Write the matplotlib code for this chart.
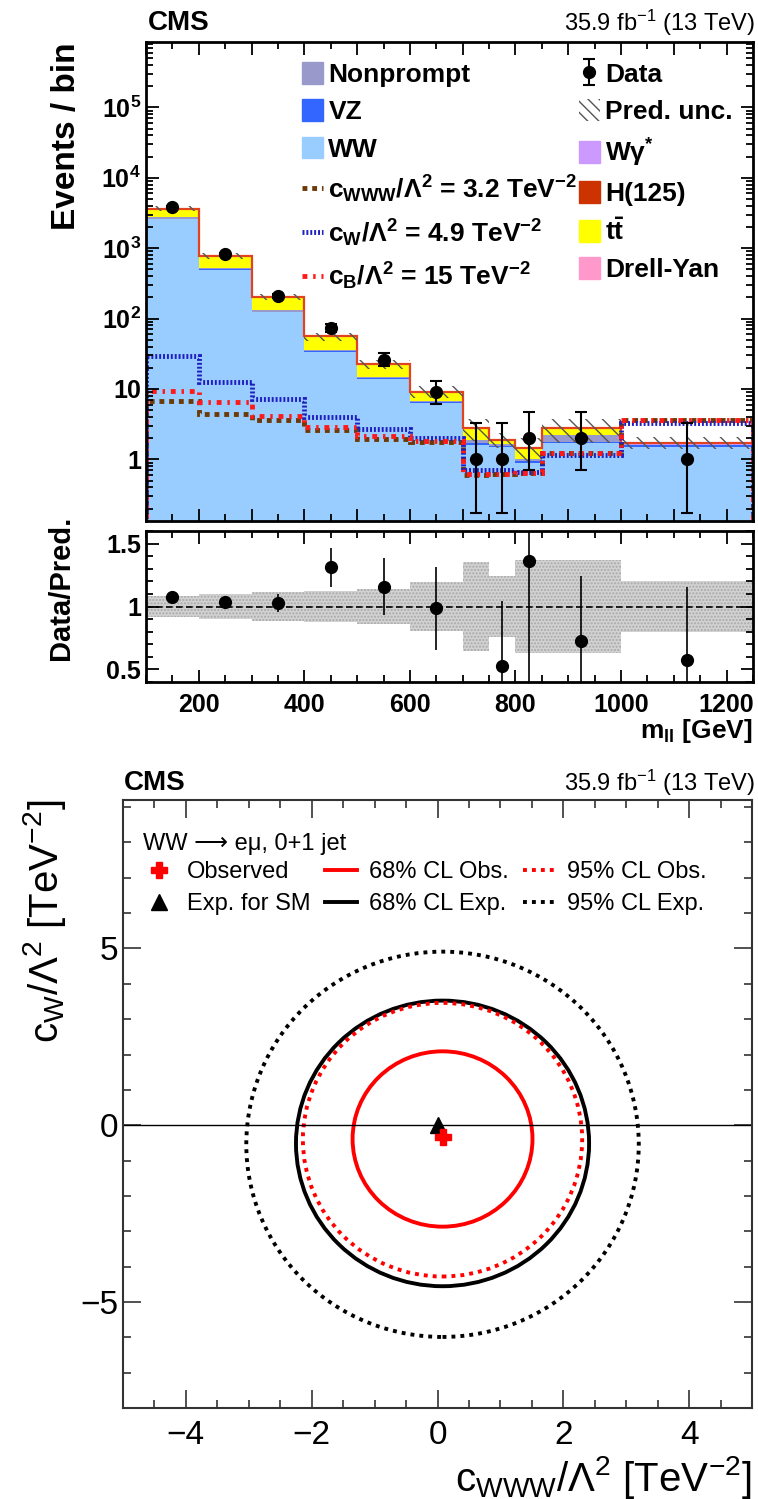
import numpy as np
import matplotlib
matplotlib.use('Agg')
import matplotlib.pyplot as plt
import matplotlib.patches as mpatches
from matplotlib.lines import Line2D
from matplotlib.ticker import MultipleLocator, LogLocator, NullFormatter

plt.rcParams['font.family'] = ['Liberation Sans', 'DejaVu Sans']
plt.rcParams['mathtext.fontset'] = 'custom'
plt.rcParams['mathtext.rm'] = 'Liberation Sans'
plt.rcParams['mathtext.bf'] = 'Liberation Sans:bold'
plt.rcParams['mathtext.it'] = 'Liberation Sans:italic'
plt.rcParams['hatch.linewidth'] = 1.0

# --- top panel: m_ll distribution ---
edges = [100, 200, 300, 400, 500, 600, 700, 750, 800, 850, 1000, 1250]
ww        = [2580, 490, 123, 33.6, 13.7, 6.25, 1.62, 1.50, 0.90, 1.68, 1.52]
vz        = [45, 10, 2.8, 0.9, 0.4, 0.2, 0.06, 0.05, 0.06, 0.06, 0.06]
nonprompt = [110, 22, 5, 1.3, 0.8, 0.35, 0.2, 0.10, 0.05, 0.50, 0.04]
wgstar    = [15, 3, 0.7, 0.2, 0.08, 0.03, 0.01, 0.01, 0.01, 0.01, 0.01]
ttbar     = [820, 251, 70.7, 19.2, 7.35, 2.22, 0.85, 0.23, 0.425, 0.48, 0.08]
dy        = [25, 4, 1, 0.3, 0.1, 0.05, 0.01, 0.01, 0.01, 0.01, 0.01]
higgs     = [30, 4, 0.8, 0.2, 0.07, 0.03, 0.01, 0.01, 0.01, 0.01, 0.01]
rel_unc   = [0.08, 0.097, 0.112, 0.125, 0.14, 0.195, 0.35, 0.24, 0.37, 0.37, 0.2]

data     = [3900, 815, 210, 73, 26, 9, 1, 1, 2, 2, 1]
data_elo = [62, 28.5, 14.5, 8.5, 5.06, 2.94, 0.827, 0.827, 1.291, 1.291, 0.827]
data_ehi = [63, 29.5, 15.5, 9.6, 6.17, 4.11, 2.299, 2.299, 2.637, 2.637, 2.299]

eft_cwww = [6.8, 4.35, 3.58, 2.6, 1.92, 1.76, 0.6, 0.62, 0.64, 1.22, 3.65]
eft_cw   = [29.3, 12.6, 7.1, 3.95, 2.67, 1.99, 0.7, 0.7, 0.66, 1.15, 3.25]
eft_cb   = [9.4, 6.45, 4.12, 2.9, 2.14, 1.85, 0.62, 0.62, 0.64, 1.22, 3.6]

# --- bottom panel: 2D limits (center x, center y, half-width, half-height) ---
obs_point = (0.08, -0.33)
sm_point = (0.0, 0.0)
obs68 = (0.08, -0.39, 1.43, 2.48)
obs95 = (0.08, -0.41, 2.22, 3.87)
exp68 = (0.08, -0.515, 2.33, 4.04)
exp95 = (0.08, -0.54, 3.12, 5.45)

W, H = 758, 1499
fig = plt.figure(figsize=(W / 100, H / 100), dpi=100)

def fax(l, t, r, b):
    return fig.add_axes([l / W, 1 - b / H, (r - l) / W, (b - t) / H])

ax = fax(146, 42, 753, 521)
axr = fax(146, 531, 753, 682)
ax2 = fax(123, 800, 752, 1408)

c_ww, c_vz, c_np = '#99ccff', '#3366ff', '#9999cc'
c_wg, c_tt, c_dy, c_h = '#cc99ff', '#ffff00', '#ff99cc', '#cc3300'

edges = np.array(edges, dtype=float)
centers = 0.5 * (edges[1:] + edges[:-1])
stack = [(ww, c_ww), (vz, c_vz), (nonprompt, c_np), (wgstar, c_wg),
         (ttbar, c_tt), (dy, c_dy), (higgs, c_h)]
base = np.full(len(ww), 1e-3)
for vals, col in stack:
    top = base + np.array(vals)
    ax.stairs(top, edges, baseline=base, fill=True, color=col, lw=0)
    base = top
total = base - 1e-3
ax.stairs(total, edges, baseline=None, color='#e2431e', lw=1.6)
unc = np.array(rel_unc)
ax.stairs(total * (1 + unc), edges, baseline=total * (1 - unc), fill=True,
          facecolor='none', edgecolor='#555555', hatch='\\\\', lw=0)

ls_cwww = (0, (1.0, 1.0))
ls_cw = (0, (0.4, 0.4))
ls_cb = (0, (1.0, 1.2, 0.5, 1.2))
ax.stairs(eft_cwww, edges, baseline=1e-3, color='#6b3a07', lw=3.5, ls=ls_cwww)
ax.stairs(eft_cw, edges, baseline=1e-3, color='#1f1fbf', lw=3.5, ls=ls_cw)
ax.stairs(eft_cb, edges, baseline=1e-3, color='#ff1a1a', lw=3.5, ls=ls_cb)

eb = ax.errorbar(centers, data, yerr=[data_elo, data_ehi], fmt='o', color='black',
                 ms=8.5, elinewidth=1.5, capsize=4, capthick=1.5, zorder=5)

ax.set_yscale('log')
ax.set_xlim(100, 1250)
ax.set_ylim(0.133, 8.5e5)
ax.set_yticks([1, 10, 1e2, 1e3, 1e4, 1e5],
              ['1', '10', r'$\mathbf{10^{2}}$', r'$\mathbf{10^{3}}$',
               r'$\mathbf{10^{4}}$', r'$\mathbf{10^{5}}$'],
              fontweight='bold', fontsize=18)
ax.yaxis.set_minor_locator(LogLocator(base=10, subs=np.arange(2, 10)))
ax.yaxis.set_minor_formatter(NullFormatter())
ax.xaxis.set_major_locator(MultipleLocator(100))
ax.xaxis.set_minor_locator(MultipleLocator(50))
ax.set_xticklabels([])
ax.set_ylabel('Events / bin', fontsize=24, fontweight='bold', loc='top')
ax.yaxis.set_label_coords(-0.105, 1.0)

h_np = mpatches.Patch(facecolor=c_np, edgecolor=c_np)
h_vz = mpatches.Patch(facecolor=c_vz, edgecolor=c_vz)
h_ww = mpatches.Patch(facecolor=c_ww, edgecolor=c_ww)
h_cwww = Line2D([], [], color='#6b3a07', lw=3.5, ls=ls_cwww)
h_cw = Line2D([], [], color='#1f1fbf', lw=3.5, ls=ls_cw)
h_cb = Line2D([], [], color='#ff1a1a', lw=3.5, ls=ls_cb)
leg1 = ax.legend([h_np, h_vz, h_ww, h_cwww, h_cw, h_cb],
                 ['Nonprompt', 'VZ', 'WW',
                  r'c$_{\mathbf{WWW}}$/$\mathbf{\Lambda^{2}}$ = 3.2 TeV$^{\mathbf{-2}}$',
                  r'c$_{\mathbf{W}}$/$\mathbf{\Lambda^{2}}$ = 4.9 TeV$^{\mathbf{-2}}$',
                  r'c$_{\mathbf{B}}$/$\mathbf{\Lambda^{2}}$ = 15 TeV$^{\mathbf{-2}}$'],
                 loc='upper left', bbox_to_anchor=(0.257, 0.958), frameon=False,
                 borderpad=0, borderaxespad=0, handlelength=0.8, handleheight=0.9,
                 handletextpad=0.2, labelspacing=0.46,
                 prop={'weight': 'bold', 'size': 19})
ax.add_artist(leg1)

h_unc = mpatches.Patch(facecolor='white', edgecolor='#555555', hatch='\\\\\\', lw=0)
h_wg = mpatches.Patch(facecolor=c_wg, edgecolor=c_wg)
h_h = mpatches.Patch(facecolor=c_h, edgecolor=c_h)
h_tt = mpatches.Patch(facecolor=c_tt, edgecolor=c_tt)
h_dy = mpatches.Patch(facecolor=c_dy, edgecolor=c_dy)
ax.legend([eb, h_unc, h_wg, h_h, h_tt, h_dy],
          ['Data', 'Pred. unc.', r'W$\mathbf{\gamma^{*}}$', 'H(125)',
           r'$\mathbf{t\bar{t}}$', 'Drell-Yan'],
          loc='upper left', bbox_to_anchor=(0.713, 0.958), frameon=False,
          borderpad=0, borderaxespad=0, handlelength=0.8, handleheight=0.9,
          handletextpad=0.2, labelspacing=0.46,
          prop={'weight': 'bold', 'size': 19})

# --- ratio panel ---
data_a = np.array(data, dtype=float)
ratio = data_a / total
ratio_err = np.sqrt(data_a) / total
show = ratio > 0.4
axr.stairs(1 + unc, edges, baseline=1 - unc, fill=True, facecolor='#d2d2d2',
           edgecolor='#a8a8a8', hatch='.....', lw=0)
axr.axhline(1, color='black', lw=1.2, ls=(0, (4, 2)))
axr.errorbar(centers[show], ratio[show], yerr=ratio_err[show], fmt='o',
             color='black', ms=8.5, elinewidth=1.2, capsize=0)
axr.set_xlim(100, 1250)
axr.set_ylim(0.4, 1.6)
axr.set_yticks([0.5, 1, 1.5], ['0.5', '1', '1.5'], fontweight='bold', fontsize=18)
axr.yaxis.set_minor_locator(MultipleLocator(0.1))
axr.set_xticks([200, 400, 600, 800, 1000, 1200],
               ['200', '400', '600', '800', '1000', '1200'],
               fontweight='bold', fontsize=18)
axr.xaxis.set_minor_locator(MultipleLocator(50))
axr.set_ylabel('Data/Pred.', fontsize=21, fontweight='bold', loc='top')
axr.yaxis.set_label_coords(-0.117, 1.1)
axr.set_xlabel(r'm$_{\mathbf{ll}}$ [GeV]', fontsize=19, fontweight='bold', loc='right')
axr.xaxis.set_label_coords(1.0, -0.23)

for a in (ax, axr):
    for s in a.spines.values():
        s.set_linewidth(2)
    a.tick_params(which='both', direction='in', top=True, right=True, width=1.3)
    a.tick_params(which='major', length=9)
    a.tick_params(which='minor', length=5)
    a.tick_params(axis='x', pad=8)

fig.text(148 / W, 1 - 23 / H, 'CMS', fontsize=20, fontweight='bold', va='center')
fig.text(755 / W, 1 - 23 / H, r'35.9 fb$^{-1}$ (13 TeV)', fontsize=17,
         ha='right', va='center')

# --- bottom panel: limits ---
ax2.axhline(0, color='black', lw=1)
for (xc, yc, rx, ry), col, ls in [(exp95, 'black', (0, (1, 1.3))),
                                  (exp68, 'black', '-'),
                                  (obs95, '#ff0000', (0, (1, 1.3))),
                                  (obs68, '#ff0000', '-')]:
    ax2.add_patch(mpatches.Ellipse((xc, yc), 2 * rx, 2 * ry, fill=False,
                                   edgecolor=col, lw=2.8, ls=ls))
ax2.plot([sm_point[0]], [sm_point[1]], marker='^', color='black', ms=11, ls='none')
ax2.plot([obs_point[0]], [obs_point[1]], marker='P', color='#ff0000', ms=12, ls='none')
ax2.set_xlim(-5, 5)
ax2.set_ylim(-8, 9.2)
ax2.xaxis.set_major_locator(MultipleLocator(2))
ax2.xaxis.set_minor_locator(MultipleLocator(0.5))
ax2.yaxis.set_major_locator(MultipleLocator(5))
ax2.yaxis.set_minor_locator(MultipleLocator(1))
ax2.tick_params(which='both', direction='in', top=True, right=True, labelsize=24,
                width=1.2, color='#333333')
ax2.tick_params(which='major', length=13)
ax2.tick_params(which='minor', length=6)
ax2.tick_params(axis='x', pad=9)
for s in ax2.spines.values():
    s.set_linewidth(1.5)
    s.set_color('#333333')
ax2.set_xlabel(r'c$_{\mathrm{WWW}}$/$\Lambda^{2}$ [TeV$^{-2}$]', fontsize=29, loc='right')
ax2.xaxis.set_label_coords(1.0, -0.075)
ax2.set_ylabel(r'c$_{\mathrm{W}}$/$\Lambda^{2}$ [TeV$^{-2}$]', fontsize=29, loc='top')
ax2.yaxis.set_label_coords(-0.088, 1.0)

ax2.text(0.032, 0.927, 'WW \u27f6 e\u03bc, 0+1 jet', transform=ax2.transAxes,
         fontsize=17, va='center')
hb = [Line2D([], [], marker='P', color='#ff0000', ms=12, ls='none'),
      Line2D([], [], marker='^', color='black', ms=11, ls='none'),
      Line2D([], [], color='#ff0000', lw=2.8),
      Line2D([], [], color='black', lw=2.8),
      Line2D([], [], color='#ff0000', lw=2.8, ls=(0, (1, 1.3))),
      Line2D([], [], color='black', lw=2.8, ls=(0, (1, 1.3)))]
ax2.legend(hb, ['Observed', 'Exp. for SM', '68% CL Obs.', '68% CL Exp.',
                '95% CL Obs.', '95% CL Exp.'],
           ncol=3, loc='upper left', bbox_to_anchor=(0.032, 0.90), frameon=False,
           borderpad=0, borderaxespad=0, handlelength=1.36, handletextpad=0.5,
           columnspacing=0.6, labelspacing=0.45, fontsize=17)

fig.text(124 / W, 1 - 783 / H, 'CMS', fontsize=20, fontweight='bold', va='center')
fig.text(755 / W, 1 - 783 / H, r'35.9 fb$^{-1}$ (13 TeV)', fontsize=17,
         ha='right', va='center')

fig.savefig('out.png', dpi=100)
